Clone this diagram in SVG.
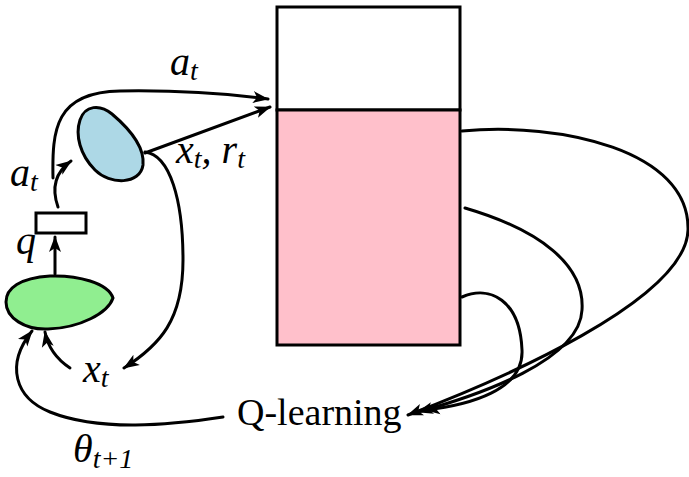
<svg xmlns="http://www.w3.org/2000/svg" width="689" height="477" viewBox="0 0 689 477">
<style>
.ln{fill:none;stroke:#000;stroke-width:3;stroke-linecap:round}
.m{font-family:"Liberation Serif",serif;font-style:italic;font-size:40px;fill:#000}
.s{font-size:28px}
.up{font-family:"Liberation Serif",serif;font-size:38px;fill:#000}
</style>
<defs>
<marker id="ah" markerUnits="userSpaceOnUse" markerWidth="18" markerHeight="14" refX="15" refY="6" orient="auto" viewBox="0 0 18 12">
<path d="M0,0 L16,6 L0,12 L4,6 Z" fill="#000"/>
</marker>
</defs>
<g id="buffer">
<rect x="277" y="7" width="183" height="103" fill="#fff" stroke="#000" stroke-width="3"/>
<rect x="277" y="110" width="183" height="235" fill="#FFC0CB" stroke="#000" stroke-width="3"/>
</g>
<g id="env">
<path d="M143,165 C140,185 110,185 95,170 C80,155 75,135 80,120 C85,105 100,104 112,114 C125,125 145,145 143,165 Z" fill="#ADD8E6" stroke="#000" stroke-width="3"/>
</g>
<g id="qnet">
<path d="M113,298 C108,283 78,275 50,276 C20,278 6,288 6,302 C6,318 25,330 48,329 C80,328 108,313 113,298 Z" fill="#90EE90" stroke="#000" stroke-width="3"/>
</g>
<g id="argmax">
<rect x="36" y="213" width="50" height="20" fill="#fff" stroke="#000" stroke-width="3"/>
</g>
<g id="connectors">
<path class="ln" d="M55,274 L55,237" marker-end="url(#ah)"/>
<path class="ln" d="M58,207 C52,190 53,174 71,161" marker-end="url(#ah)"/>
<path class="ln" d="M53,178 C52,130 55,92 120,91 C180,90 230,94 268,99" marker-end="url(#ah)"/>
<path class="ln" d="M145,153 L270,107" marker-end="url(#ah)"/>
<path class="ln" d="M145,152 C170,155 183,200 183,260 C183,320 160,345 124,368" marker-end="url(#ah)"/>
<path class="ln" d="M70,368 C58,360 48,348 45,332" marker-end="url(#ah)"/>
<path class="ln" d="M223,417 C170,425 100,432 50,412 C15,398 5,365 32,331" marker-end="url(#ah)"/>
<path class="ln" d="M462,131 C560,122 690,150 688,230 C686,300 500,380 408,415" marker-end="url(#ah)"/>
<path class="ln" d="M465,208 C540,230 585,265 582,310 C580,360 480,395 418,412" marker-end="url(#ah)"/>
<path class="ln" d="M462,297 C490,285 520,300 522,350 C524,390 470,405 425,410" marker-end="url(#ah)"/>
</g>
<g id="labels">
<text class="m" x="170" y="75">a<tspan class="s" dy="5">t</tspan></text>
<text class="m" x="10" y="186">a<tspan class="s" dy="5">t</tspan></text>
<text class="m" x="16" y="254">q</text>
<text class="m" x="176" y="163">x<tspan class="s" dy="5">t</tspan><tspan dy="-5">, r</tspan><tspan class="s" dy="5">t</tspan></text>
<text class="m" x="83" y="382">x<tspan class="s" dy="5">t</tspan></text>
<text class="m" x="73" y="462">θ<tspan class="s" dy="6">t+1</tspan></text>
<text class="up" x="237" y="425">Q-learning</text>
</g>
</svg>
